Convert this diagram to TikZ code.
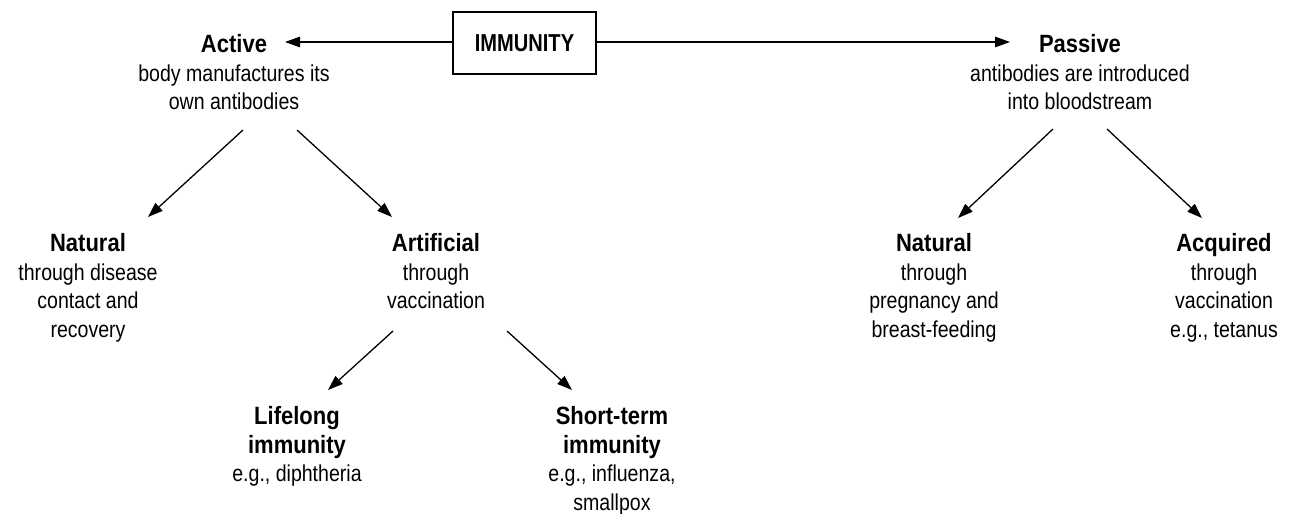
\documentclass[tikz,border=0pt]{standalone}
\usepackage{fontspec}
\setmainfont{Liberation Sans}[FakeStretch=0.85]
\newfontfamily\hdfont{Liberation Sans}[FakeStretch=0.88]
\newfontfamily\boxfont{Liberation Sans}[FakeStretch=0.82]
\usetikzlibrary{arrows.meta}
\newcommand\hd[1]{{\hdfont\bfseries\fontsize{25}{28.8}\selectfont #1}}
\newcommand\hdb[1]{{\hdfont\bfseries\fontsize{25}{28.5}\selectfont #1}}
\newcommand\fl{\rule{0pt}{18pt}}
\begin{document}
\begin{tikzpicture}[x=1pt,y=-1pt,
  txt/.style={align=center, inner sep=0pt, anchor=north, font=\fontsize{23}{28.8}\selectfont},
  txtb/.style={txt, font=\fontsize{23}{28.5}\selectfont},
  arr/.style={-{Triangle[length=15pt,width=10.5pt]}, line width=1.3pt},
  boxed/.style={draw, line width=1.3pt, minimum width=143pt, minimum height=62pt, inner sep=0pt,
    font=\boxfont\bfseries\fontsize{24.5}{29}\selectfont}]
\useasboundingbox (0,0) rectangle (1294,514);
\fill[white] (0,0) rectangle (1294,514);

\node[boxed] (imm) at (524.5,43) {IMMUNITY};
\node[txt] (active) at (234,34) {\fl\hd{Active}\\body manufactures its\\own antibodies};
\node[txt] (passive) at (1080,34) {\fl\hd{Passive}\\antibodies are introduced\\into bloodstream};
\node[txt] (nat1) at (88,233) {\fl\hd{Natural}\\through disease\\contact and\\recovery};
\node[txt] (art) at (436,233) {\fl\hd{Artificial}\\through\\vaccination};
\node[txtb] (life) at (297,406.5) {\fl\hdb{Lifelong}\\\hdb{immunity}\\e.g., diphtheria};
\node[txtb] (short) at (612,406.5) {\fl\hdb{Short-term}\\\hdb{immunity}\\e.g., influenza,\\smallpox};
\node[txt] (nat2) at (934,233) {\fl\hd{Natural}\\through\\pregnancy and\\breast-feeding};
\node[txt] (acq) at (1224,233) {\fl\hd{Acquired}\\through\\vaccination\\e.g., tetanus};

\coordinate (actE) at (285,42);
\coordinate (pasW) at (1010,42);
\coordinate (a1) at (243,130); \coordinate (a1e) at (148,217);
\coordinate (a2) at (297,130); \coordinate (a2e) at (392,217);
\coordinate (r1) at (393,331); \coordinate (r1e) at (328,390);
\coordinate (r2) at (507,331); \coordinate (r2e) at (572,390);
\coordinate (p1) at (1053,129); \coordinate (p1e) at (958,218);
\coordinate (p2) at (1107,129); \coordinate (p2e) at (1202,218);

\draw[arr] (imm.west |- actE) -- (actE);
\draw[arr] (imm.east |- pasW) -- (pasW);
\draw[arr] (a1) -- (a1e);
\draw[arr] (a2) -- (a2e);
\draw[arr] (r1) -- (r1e);
\draw[arr] (r2) -- (r2e);
\draw[arr] (p1) -- (p1e);
\draw[arr] (p2) -- (p2e);
\end{tikzpicture}
\end{document}
